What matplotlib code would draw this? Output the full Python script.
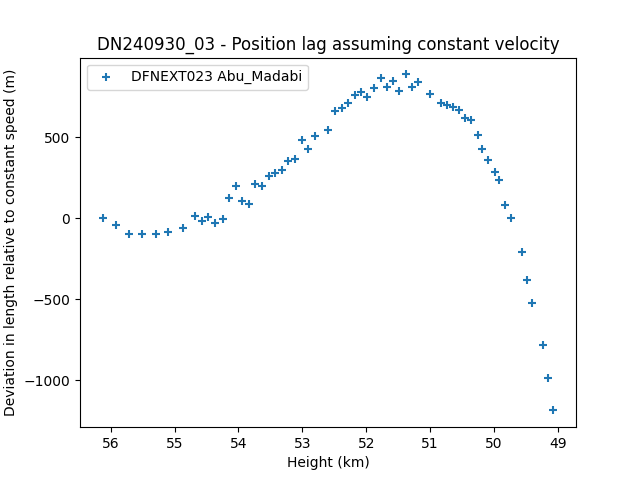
import matplotlib
matplotlib.use("Agg")
import matplotlib.pyplot as plt

# Data
height_km = [
    56.126, 55.919, 55.716, 55.513, 55.295, 55.097, 54.874, 54.676, 54.566, 54.468,
    54.364, 54.245, 54.140, 54.036, 53.942, 53.839, 53.739, 53.626, 53.527, 53.423,
    53.318, 53.220, 53.111, 53.006, 52.909, 52.802, 52.601, 52.491, 52.382, 52.284,
    52.175, 52.081, 51.988, 51.878, 51.769, 51.676, 51.582, 51.493, 51.384, 51.290,
    51.192, 51.005, 50.822, 50.729, 50.635, 50.541, 50.448, 50.354, 50.256, 50.183,
    50.089, 49.991, 49.917, 49.824, 49.741, 49.569, 49.484, 49.398, 49.226, 49.148,
    49.070,
]
deviation_m = [
    0, -44, -100, -100, -100, -88, -63, 11, -15, 5,
    -28, -7, 122, 201, 106, 90, 213, 201, 262, 281,
    295, 355, 363, 485, 425, 510, 542, 659, 678, 709,
    758, 777, 746, 807, 863, 812, 849, 787, 888, 812,
    844, 770, 709, 696, 684, 670, 616, 608, 511, 429,
    357, 283, 233, 83, -1, -211, -384, -522, -785, -985,
    -1187,
]

fig = plt.figure(figsize=(6.4, 4.8), dpi=100)
plt.scatter(height_km, deviation_m, marker='+', label='DFNEXT023 Abu_Madabi')
plt.gca().invert_xaxis()
plt.title("DN240930_03 - Position lag assuming constant velocity")
plt.xlabel("Height (km)")
plt.ylabel("Deviation in length relative to constant speed (m)")
plt.legend(loc='upper left')
plt.savefig("out.png")
